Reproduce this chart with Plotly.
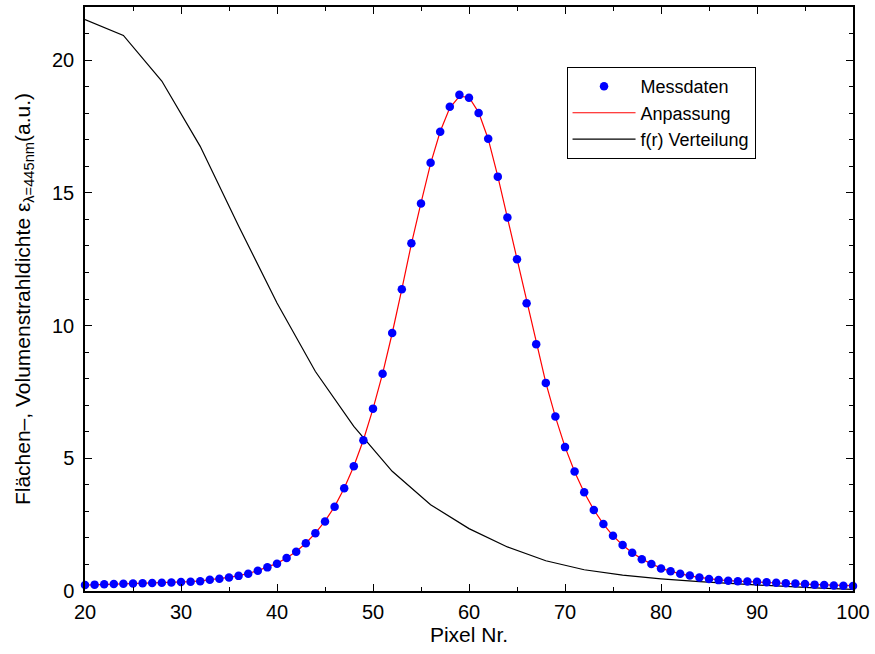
import plotly.graph_objects as go

# Pixel positions of the detector row
pixel = list(range(20, 101))

# Measured emission density per pixel
messdaten = [
    0.23, 0.24, 0.25, 0.26, 0.27, 0.28, 0.29, 0.30, 0.31, 0.32,
    0.34, 0.35, 0.37, 0.42, 0.46, 0.51, 0.57, 0.65, 0.76, 0.89,
    1.03, 1.24, 1.48, 1.80, 2.18, 2.62, 3.17, 3.87, 4.70, 5.68,
    6.87, 8.18, 9.72, 11.37, 13.10, 14.60, 16.13, 17.30, 18.24, 18.69,
    18.58, 18.01, 17.04, 15.61, 14.07, 12.50, 10.84, 9.30, 7.84, 6.57,
    5.42, 4.50, 3.72, 3.05, 2.52, 2.08, 1.73, 1.44, 1.20, 1.02,
    0.85, 0.74, 0.65, 0.58, 0.51, 0.45, 0.41, 0.39, 0.37, 0.36,
    0.35, 0.33, 0.31, 0.29, 0.28, 0.26, 0.24, 0.23, 0.21, 0.20,
    0.19,
]

# Fitted curve evaluated at the same pixels
anpassung = [
    0.22, 0.23, 0.24, 0.25, 0.26, 0.27, 0.28, 0.29, 0.30, 0.31,
    0.33, 0.35, 0.38, 0.42, 0.46, 0.51, 0.58, 0.66, 0.77, 0.89,
    1.04, 1.24, 1.49, 1.80, 2.18, 2.63, 3.18, 3.87, 4.70, 5.69,
    6.86, 8.19, 9.71, 11.36, 13.08, 14.62, 16.10, 17.31, 18.20, 18.63,
    18.60, 18.03, 17.03, 15.62, 14.06, 12.49, 10.85, 9.29, 7.85, 6.56,
    5.43, 4.49, 3.71, 3.06, 2.52, 2.08, 1.73, 1.44, 1.21, 1.02,
    0.86, 0.74, 0.65, 0.57, 0.51, 0.46, 0.42, 0.39, 0.37, 0.35,
    0.34, 0.32, 0.30, 0.29, 0.27, 0.26, 0.24, 0.23, 0.22, 0.21,
    0.20,
]

# Radial distribution f(r), sampled every 4 pixels
vert_pixel = [20, 24, 28, 32, 36, 40, 44, 48, 52, 56, 60,
              64, 68, 72, 76, 80, 84, 88, 92, 96, 100]
verteilung = [21.53, 20.93, 19.21, 16.75, 13.75, 10.85, 8.27, 6.20, 4.51, 3.25, 2.35,
              1.66, 1.14, 0.80, 0.60, 0.46, 0.35, 0.26, 0.19, 0.12, 0.06]

font_family = "Liberation Sans, Arial, Helvetica, sans-serif"

fig = go.Figure()
fig.add_trace(go.Scatter(
    x=pixel, y=messdaten, mode="markers", name="Messdaten",
    marker=dict(color="#0000ff", size=8.5, line=dict(width=0)),
    cliponaxis=False,
))
fig.add_trace(go.Scatter(
    x=pixel, y=anpassung, mode="lines", name="Anpassung",
    line=dict(color="red", width=1.2),
))
fig.add_trace(go.Scatter(
    x=vert_pixel, y=verteilung, mode="lines", name="f(r) Verteilung",
    line=dict(color="black", width=1.2),
))

# Draw the measured points on top of both curves
fig.data = (fig.data[2], fig.data[1], fig.data[0])

axis_common = dict(
    showline=True, linecolor="black", linewidth=1.5, mirror="ticks",
    ticks="inside", ticklen=7, tickwidth=1.2, tickcolor="black",
    showgrid=False, zeroline=False,
    tickfont=dict(family=font_family, size=20, color="black"),
)

fig.update_layout(
    width=875, height=654,
    margin=dict(l=85, r=20, t=5, b=63),
    paper_bgcolor="white", plot_bgcolor="white",
    font=dict(family=font_family, color="black"),
    showlegend=True,
    legend=dict(
        x=0.627, y=0.897, xanchor="left", yanchor="top",
        bordercolor="black", borderwidth=1, bgcolor="white",
        font=dict(family=font_family, size=18, color="black"),
        traceorder="reversed", tracegroupgap=0, itemwidth=63,
    ),
    xaxis=dict(
        range=[20, 100], dtick=10, tick0=0,
        minor=dict(dtick=5, ticklen=4, ticks="inside", tickcolor="black", tickwidth=1),
        title=dict(text="Pixel Nr.", font=dict(family=font_family, size=21), standoff=4),
        ticklabelstandoff=2,
        **axis_common,
    ),
    yaxis=dict(
        range=[0, 22], dtick=5, tick0=0,
        minor=dict(dtick=1, ticklen=4, ticks="inside", tickcolor="black", tickwidth=1),
        title=dict(
            text="Flächen–, Volumenstrahldichte ε<sub>λ=445nm</sub>(a.u.)",
            font=dict(family=font_family, size=21), standoff=16,
        ),
        ticklabelstandoff=5,
        **axis_common,
    ),
)

fig.write_html("out.html")
